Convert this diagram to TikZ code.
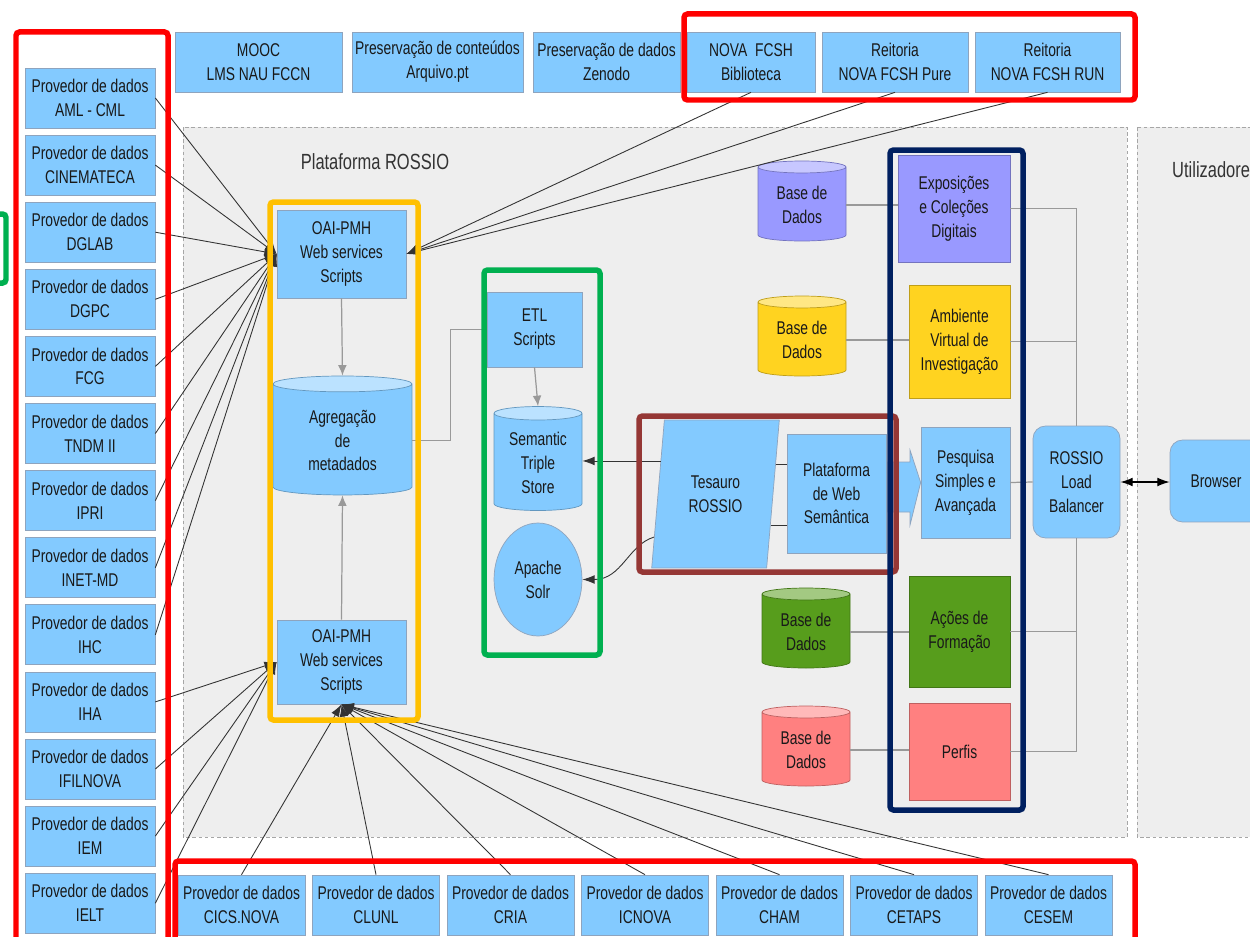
\documentclass[tikz,border=0pt]{standalone}
\usepackage{fontspec}
\setmainfont{Liberation Sans}[FakeStretch=0.75]
\usetikzlibrary{arrows,arrows.meta,shapes.geometric}

\definecolor{boxblue}{HTML}{83CAFF}
\definecolor{boxline}{HTML}{8EA4BE}
\definecolor{platgrey}{HTML}{EEEEEE}
\definecolor{lilac}{HTML}{9999FF}
\definecolor{sun}{HTML}{FFD320}
\definecolor{leaf}{HTML}{579D1C}
\definecolor{rose}{HTML}{FF8080}
\definecolor{frameyellow}{HTML}{FFC000}
\definecolor{framegreen}{HTML}{00B050}
\definecolor{framebrown}{HTML}{953735}
\definecolor{framenavy}{HTML}{002060}

\newcommand\boxfont{\fontsize{10.5pt}{13.6pt}\selectfont}
\newcommand\titlefont{\fontsize{12.5pt}{15pt}\selectfont}

\tikzset{
  box/.style={draw=boxline, fill=boxblue, inner sep=1pt, align=center, font=\boxfont, text=black!90},
  prov/.style={box, minimum width=2.6cm, minimum height=1.2cm},
  dbase/.style={cylinder, shape border rotate=90, aspect=0.22, draw=#1!75!black,
    cylinder uses custom fill, cylinder body fill=#1, cylinder end fill=#1!55!white,
    align=center, font=\boxfont, text=black!90, inner sep=1pt},
  link/.style={draw=black!80, line width=0.5pt, -{Latex[length=7pt,width=5pt]}},
  greyline/.style={draw=black!40, line width=0.7pt},
  greyarrow/.style={greyline, -{Latex[length=6pt,width=5pt]}},
  frame/.style={line width=0.11cm, rounded corners=2pt}
}

\begin{document}
\begin{tikzpicture}[x=0.02cm,y=-0.02cm]
\useasboundingbox (0,0) rectangle (1250,936);
\fill[white] (0,0) rectangle (1250,936);

% areas
\draw[dash pattern=on 2pt off 1.5pt, draw=black!35, fill=platgrey] (183,127) rectangle (1127,837);
\draw[dash pattern=on 2pt off 1.5pt, draw=black!35, fill=platgrey] (1137,127) rectangle (1290,837);
\node[font=\titlefont, text=black!80] (plattitle) at (375,162) {Plataforma ROSSIO};
\node[font=\titlefont, text=black!80, anchor=west] (users) at (1166,170) {Utilizadores};

% top row
\node[box, minimum width=3.34cm, minimum height=1.2cm] (mooc) at (258.5,62) {MOOC\\LMS NAU FCCN};
\node[box, minimum width=3.42cm, minimum height=1.2cm] (pcont) at (437.5,62) {Preservação de conteúdos\\Arquivo.pt};
\node[box, minimum width=2.94cm, minimum height=1.2cm] (pdados) at (606.5,62) {Preservação de dados\\Zenodo};
\node[box, minimum width=2.56cm, minimum height=1.2cm] (bib) at (751,62) {NOVA~~FCSH\\Biblioteca};
\node[box, minimum width=2.92cm, minimum height=1.2cm] (pure) at (895,62) {Reitoria\\NOVA FCSH Pure};
\node[box, minimum width=2.9cm, minimum height=1.2cm] (run) at (1047.5,62) {Reitoria\\NOVA FCSH RUN};

% providers
\foreach \name [count=\i from 0] in {AML - CML,CINEMATECA,DGLAB,DGPC,FCG,TNDM II,IPRI,INET-MD,IHC,IHA,IFILNOVA,IEM,IELT}
  \node[prov] (l\i) at (90,{98+67.1*\i}) {Provedor de dados\\\name};
\foreach \name [count=\i from 0] in {CICS.NOVA,CLUNL,CRIA,ICNOVA,CHAM,CETAPS,CESEM}
  \node[prov, minimum width=2.54cm] (b\i) at ({241.5+134.5*\i},905) {Provedor de dados\\\name};

% harvesting
\node[box, minimum width=2.58cm, minimum height=1.76cm] (oai1) at (341.5,254) {OAI-PMH\\Web services\\Scripts};
\node[dbase=boxblue, minimum width=2.78cm, minimum height=2.38cm] (agg) at (342.5,440.5) {Agregação\\de\\metadados};
\node[box, minimum width=2.58cm, minimum height=1.68cm] (oai2) at (341.5,662) {OAI-PMH\\Web services\\Scripts};

% semantic layer
\node[box, minimum width=1.9cm, minimum height=1.5cm] (etl) at (534.5,329.5) {ETL\\Scripts};
\node[dbase=boxblue, minimum width=1.76cm, minimum height=2.08cm] (sts) at (538,463) {Semantic\\Triple\\Store};
\node[box, ellipse, minimum width=1.76cm, minimum height=2.26cm] (solr) at (538,579.5) {Apache\\Solr};
\node[box, trapezium, trapezium left angle=80, trapezium right angle=100, trapezium stretches=true,
  minimum width=2.56cm, minimum height=2.96cm] (tes) at (715.5,494) {Tesauro\\ROSSIO};
\node[box, minimum width=1.98cm, minimum height=2.38cm] (plat) at (836.5,493.5) {Plataforma\\de Web\\Semântica};

% services
\node[dbase=lilac, minimum width=1.76cm, minimum height=1.6cm] (db1) at (802,205) {Base de\\Dados};
\node[dbase=sun, minimum width=1.76cm, minimum height=1.6cm] (db2) at (802,340) {Base de\\Dados};
\node[dbase=leaf, minimum width=1.76cm, minimum height=1.6cm] (db3) at (806,632) {Base de\\Dados};
\node[dbase=rose, minimum width=1.76cm, minimum height=1.6cm] (db4) at (806,750) {Base de\\Dados};
\node[box, fill=lilac, draw=lilac!75!black, minimum width=2.24cm, minimum height=2.14cm] (expo) at (954,208.5) {Exposições\\e Coleções\\Digitais};
\node[box, fill=sun, draw=sun!75!black, minimum width=2.02cm, minimum height=2.26cm] (ambi) at (959.5,341.5) {Ambiente\\Virtual de\\Investigação};
\node[box, minimum width=1.78cm, minimum height=2.22cm] (pesq) at (965.5,482.5) {Pesquisa\\Simples e\\Avançada};
\node[box, fill=leaf, draw=leaf!75!black, minimum width=2.02cm, minimum height=2.22cm] (acoes) at (959.5,631.5) {Ações de\\Formação};
\node[box, fill=rose, draw=rose!75!black, minimum width=2.02cm, minimum height=1.94cm] (perfis) at (959.5,751.5) {Perfis};
\node[box, rounded corners=0.25cm, minimum width=1.74cm, minimum height=2.24cm] (lb) at (1076.5,482) {ROSSIO\\Load\\Balancer};
\node[box, rounded corners=0.25cm, minimum width=1.84cm, minimum height=1.64cm] (browser) at (1216,481) {Browser};

% connectors
\foreach \i in {0,...,8}
  \draw[link] (l\i.east) -- (oai1.west);
\foreach \i in {9,...,12}
  \draw[link] (l\i.east) -- (oai2.west);
\foreach \i in {0,...,6}
  \draw[link] (b\i.north) -- (oai2.south);
\foreach \n in {bib,pure,run}
  \draw[link] (\n.south) -- (oai1.east);
\draw[greyarrow] (oai1.south) -- (agg.north);
\draw[greyarrow] (oai2.north) -- (agg.south);
\draw[greyline] (agg.east) -- ++(38,0) |- (etl.west);
\draw[greyarrow] (etl.south) -- (sts.north);
\draw[link] (tes.149) -- (tes.149 -| sts.east);
\draw[link] (tes.215) .. controls (628,545) and (622,579.5) .. (solr.east);
\draw[draw=black!80, line width=0.5pt] (tes.26) -- (tes.26 -| plat.west);
\draw[draw=black!80, line width=0.5pt] (tes.330) -- (tes.330 -| plat.west);
\draw[draw=boxline, fill=boxblue] (888,462) -- (910,462) -- (910,450) -- (pesq.west) -- (910,525) -- (910,512) -- (888,512) -- cycle;
\foreach \d/\s in {db1/expo,db2/ambi,db3/acoes,db4/perfis}
  \draw[greyline] (\d.east) -- (\d.east -| \s.west);
\draw[greyline] (expo.east) -| (lb.north);
\draw[greyline] (perfis.east) -| (lb.south);
\draw[greyline] (ambi.east) -- (ambi.east -| lb);
\draw[greyline] (acoes.east) -- (acoes.east -| lb);
\draw[greyline] (pesq.east) -- (lb.west);
\draw[{Latex[length=7pt,width=5pt]}-{Latex[length=7pt,width=5pt]}, line width=0.7pt] (lb.east) -- (lb.east -| browser.west);

% frames
\draw[frame, red] (16,32) rectangle (168,960);
\draw[frame, red] (684,14) rectangle (1135,100);
\draw[frame, red] (175,861) rectangle (1135,960);
\draw[frame, framegreen] (-60,214) rectangle (6,283);
\draw[frame, frameyellow] (270,202) rectangle (418,720);
\draw[frame, framegreen] (484,270) rectangle (600,655);
\draw[frame, framebrown] (639,416) rectangle (896,572);
\draw[frame, framenavy] (890,150) rectangle (1023,810);
\end{tikzpicture}
\end{document}
